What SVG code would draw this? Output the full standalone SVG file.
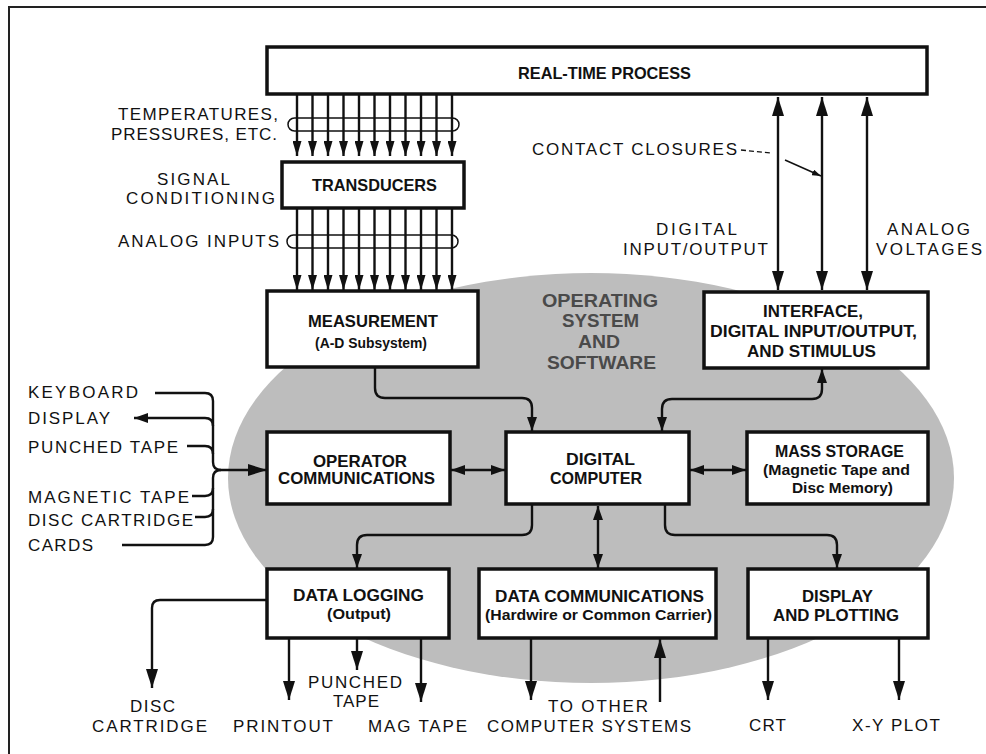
<svg xmlns="http://www.w3.org/2000/svg" width="986" height="754" viewBox="0 0 986 754">
<defs>
<style>
.box{fill:#fff;stroke:#111;stroke-width:3.5}
.bt{font-family:"Liberation Sans",Arial,sans-serif;font-weight:bold;font-size:16.5px;fill:#111}
.bs{font-family:"Liberation Sans",Arial,sans-serif;font-weight:bold;font-size:15px;fill:#111}
.os{font-family:"Liberation Sans",Arial,sans-serif;font-weight:bold;font-size:18px;fill:#4a4a4a}
.lb{font-family:"Liberation Sans",Arial,sans-serif;font-size:17px;fill:#111}
.ln{fill:none;stroke:#111;stroke-width:2.4}
.thin{fill:none;stroke:#111;stroke-width:1.5}
</style>
<marker id="a" viewBox="0 0 15 9" refX="15" refY="4.5" markerWidth="15" markerHeight="9" markerUnits="userSpaceOnUse" orient="auto-start-reverse"><path d="M0,0 L15,4.5 L0,9 Z" fill="#111"/></marker>
<marker id="b" viewBox="0 0 19 12" refX="19" refY="6" markerWidth="19" markerHeight="12" markerUnits="userSpaceOnUse" orient="auto-start-reverse"><path d="M0,0 L19,6 L0,12 Z" fill="#111"/></marker>
<marker id="c" viewBox="0 0 14 10" refX="14" refY="5" markerWidth="14" markerHeight="10" markerUnits="userSpaceOnUse" orient="auto-start-reverse"><path d="M0,0 L14,5 L0,10 Z" fill="#111"/></marker>
<marker id="s" viewBox="0 0 9 6" refX="9" refY="3" markerWidth="9" markerHeight="6" markerUnits="userSpaceOnUse" orient="auto"><path d="M0,0 L9,3 L0,6 Z" fill="#111"/></marker>
</defs>
<rect width="986" height="754" fill="#fff"/>
<path d="M9,754 V7 H986" fill="none" stroke="#222" stroke-width="2"/>
<ellipse id="os-bg" cx="591" cy="478" rx="363" ry="205" fill="#bdbdbd"/>

<g id="connectors">
<g class="ln" marker-end="url(#a)">
<path d="M297,94 V156"/><path d="M312.5,94 V156"/><path d="M328,94 V156"/><path d="M343.5,94 V156"/><path d="M359,94 V156"/><path d="M374.5,94 V156"/><path d="M390,94 V156"/><path d="M405.5,94 V156"/><path d="M421,94 V156"/><path d="M436.5,94 V156"/><path d="M452,94 V156"/>
<path d="M297,208 V290"/><path d="M312.5,208 V290"/><path d="M328,208 V290"/><path d="M343.5,208 V290"/><path d="M359,208 V290"/><path d="M374.5,208 V290"/><path d="M390,208 V290"/><path d="M405.5,208 V290"/><path d="M421,208 V290"/><path d="M436.5,208 V290"/><path d="M452,208 V290"/>
</g>
<rect class="thin" x="288" y="118" width="171" height="13" rx="6.5"/>
<rect class="thin" x="287" y="235" width="171" height="13" rx="6.5"/>
<g class="ln" marker-start="url(#b)" marker-end="url(#b)">
<path d="M778,97 V290"/><path d="M822,97 V290"/><path d="M867,97 V290"/>
</g>
<path d="M741,150 L771,153" fill="none" stroke="#111" stroke-width="1.3" stroke-dasharray="5,3"/>
<path d="M785,160 L821,176" fill="none" stroke="#111" stroke-width="1.5" marker-end="url(#s)"/>
<path class="ln" d="M375,367 V388 Q375,398 385,398 H522 Q532,398 532,408 V431" marker-end="url(#c)"/>
<path class="ln" d="M822,369 V389 Q822,399 812,399 H672 Q662,399 662,409 V431" marker-start="url(#c)" marker-end="url(#c)"/>
<path class="ln" d="M451,470 H505" marker-start="url(#c)" marker-end="url(#c)"/>
<path class="ln" d="M690,470 H746" marker-start="url(#c)" marker-end="url(#c)"/>
<path class="ln" d="M532,505 V525 Q532,535 522,535 H367 Q357,535 357,545 V568" marker-end="url(#c)"/>
<path class="ln" d="M598,506 V568" marker-start="url(#c)" marker-end="url(#c)"/>
<path class="ln" d="M665,505 V525 Q665,535 675,535 H827 Q837,535 837,545 V568" marker-end="url(#c)"/>
<path class="ln" d="M155,393 H205 Q213,393 213,401 V462 Q213,470 221,470"/>
<path class="ln" d="M213,426 Q213,418 205,418 H134" marker-end="url(#c)"/>
<path class="ln" d="M187,446 H205 Q213,446 213,454"/>
<path class="ln" d="M122,545 H205 Q213,545 213,537 V478 Q213,470 221,470"/>
<path class="ln" d="M192,496 H205 Q213,496 213,488"/>
<path class="ln" d="M195,517 H205 Q213,517 213,509"/>
<path class="ln" d="M221,470 H267" marker-end="url(#b)"/>
<path class="ln" d="M267,600 H160 Q152,600 152,608 V688" marker-end="url(#b)"/>
<g class="ln" marker-end="url(#b)">
<path d="M289,638 V700"/><path d="M357,638 V670"/><path d="M421,638 V702"/>
<path d="M531,638 V700"/><path d="M660,702 V639"/>
<path d="M768,638 V700"/><path d="M899,638 V700"/>
</g>
</g>

<g id="realtime"><rect class="box" x="267" y="47" width="660" height="47"/><text class="bt" x="518" y="79" textLength="173" lengthAdjust="spacingAndGlyphs">REAL-TIME PROCESS</text></g>
<g id="transducers"><rect class="box" x="282" y="162" width="182" height="46"/><text class="bt" x="312" y="191" textLength="125" lengthAdjust="spacingAndGlyphs">TRANSDUCERS</text></g>
<g id="measurement"><rect class="box" x="267" y="291" width="211" height="76"/><text class="bt" x="308" y="327" textLength="130" lengthAdjust="spacingAndGlyphs">MEASUREMENT</text><text class="bs" x="315" y="348" textLength="112" lengthAdjust="spacingAndGlyphs">(A-D Subsystem)</text></g>
<g id="interface"><rect class="box" x="704" y="292" width="224" height="76"/><text class="bt" x="763" y="317" textLength="100" lengthAdjust="spacingAndGlyphs">INTERFACE,</text><text class="bt" x="710" y="337" textLength="207" lengthAdjust="spacingAndGlyphs">DIGITAL INPUT/OUTPUT,</text><text class="bt" x="747" y="357" textLength="129" lengthAdjust="spacingAndGlyphs">AND STIMULUS</text></g>
<g id="os-label"><text class="os" x="542" y="307" textLength="116" lengthAdjust="spacingAndGlyphs">OPERATING</text><text class="os" x="562" y="327" textLength="77" lengthAdjust="spacingAndGlyphs">SYSTEM</text><text class="os" x="578" y="348" textLength="42" lengthAdjust="spacingAndGlyphs">AND</text><text class="os" x="547" y="369" textLength="109" lengthAdjust="spacingAndGlyphs">SOFTWARE</text></g>
<g id="operator"><rect class="box" x="267" y="432" width="183" height="72"/><text class="bt" x="313" y="467" textLength="94" lengthAdjust="spacingAndGlyphs">OPERATOR</text><text class="bt" x="278" y="484" textLength="157" lengthAdjust="spacingAndGlyphs">COMMUNICATIONS</text></g>
<g id="computer"><rect class="box" x="506" y="432" width="183" height="72"/><text class="bt" x="566" y="465" textLength="69" lengthAdjust="spacingAndGlyphs">DIGITAL</text><text class="bt" x="550" y="484" textLength="92" lengthAdjust="spacingAndGlyphs">COMPUTER</text></g>
<g id="mass-storage"><rect class="box" x="747" y="432" width="181" height="72"/><text class="bt" x="775" y="457" textLength="129" lengthAdjust="spacingAndGlyphs">MASS STORAGE</text><text class="bs" x="763" y="475" textLength="147" lengthAdjust="spacingAndGlyphs">(Magnetic Tape and</text><text class="bs" x="792" y="493" textLength="101" lengthAdjust="spacingAndGlyphs">Disc Memory)</text></g>
<g id="data-logging"><rect class="box" x="267" y="569" width="182" height="69"/><text class="bt" x="293" y="601" textLength="131" lengthAdjust="spacingAndGlyphs">DATA LOGGING</text><text class="bs" x="327" y="619" textLength="64" lengthAdjust="spacingAndGlyphs">(Output)</text></g>
<g id="data-comm"><rect class="box" x="479" y="569" width="237" height="69"/><text class="bt" x="495" y="602" textLength="209" lengthAdjust="spacingAndGlyphs">DATA COMMUNICATIONS</text><text class="bs" x="485" y="620" textLength="227" lengthAdjust="spacingAndGlyphs">(Hardwire or Common Carrier)</text></g>
<g id="display-plotting"><rect class="box" x="748" y="569" width="180" height="69"/><text class="bt" x="802" y="602" textLength="71" lengthAdjust="spacingAndGlyphs">DISPLAY</text><text class="bt" x="773" y="621" textLength="126" lengthAdjust="spacingAndGlyphs">AND PLOTTING</text></g>

<g id="labels" class="lb">
<text x="118" y="120" textLength="160">TEMPERATURES,</text>
<text x="111" y="140" textLength="166">PRESSURES, ETC.</text>
<text x="157" y="185" textLength="73">SIGNAL</text>
<text x="126" y="204" textLength="149">CONDITIONING</text>
<text x="118" y="247" textLength="161">ANALOG INPUTS</text>
<text x="532" y="155" textLength="205">CONTACT CLOSURES</text>
<text x="656" y="235" textLength="81">DIGITAL</text>
<text x="623" y="255" textLength="145">INPUT/OUTPUT</text>
<text x="887" y="235" textLength="83">ANALOG</text>
<text x="876" y="255" textLength="106">VOLTAGES</text>
<text x="28" y="398" textLength="110">KEYBOARD</text>
<text x="28" y="424" textLength="82">DISPLAY</text>
<text x="28" y="453" textLength="150">PUNCHED TAPE</text>
<text x="28" y="503" textLength="161">MAGNETIC TAPE</text>
<text x="28" y="526" textLength="165">DISC CARTRIDGE</text>
<text x="28" y="551" textLength="65">CARDS</text>
<text x="130" y="712" textLength="45">DISC</text>
<text x="92" y="732" textLength="115">CARTRIDGE</text>
<text x="233" y="732" textLength="100">PRINTOUT</text>
<text x="308" y="688" textLength="94">PUNCHED</text>
<text x="333" y="707" textLength="46">TAPE</text>
<text x="368" y="732" textLength="99">MAG TAPE</text>
<text x="548" y="712" textLength="100">TO OTHER</text>
<text x="487" y="732" textLength="204">COMPUTER SYSTEMS</text>
<text x="749" y="731" textLength="37">CRT</text>
<text x="852" y="731" textLength="88">X-Y PLOT</text>
</g>
</svg>
